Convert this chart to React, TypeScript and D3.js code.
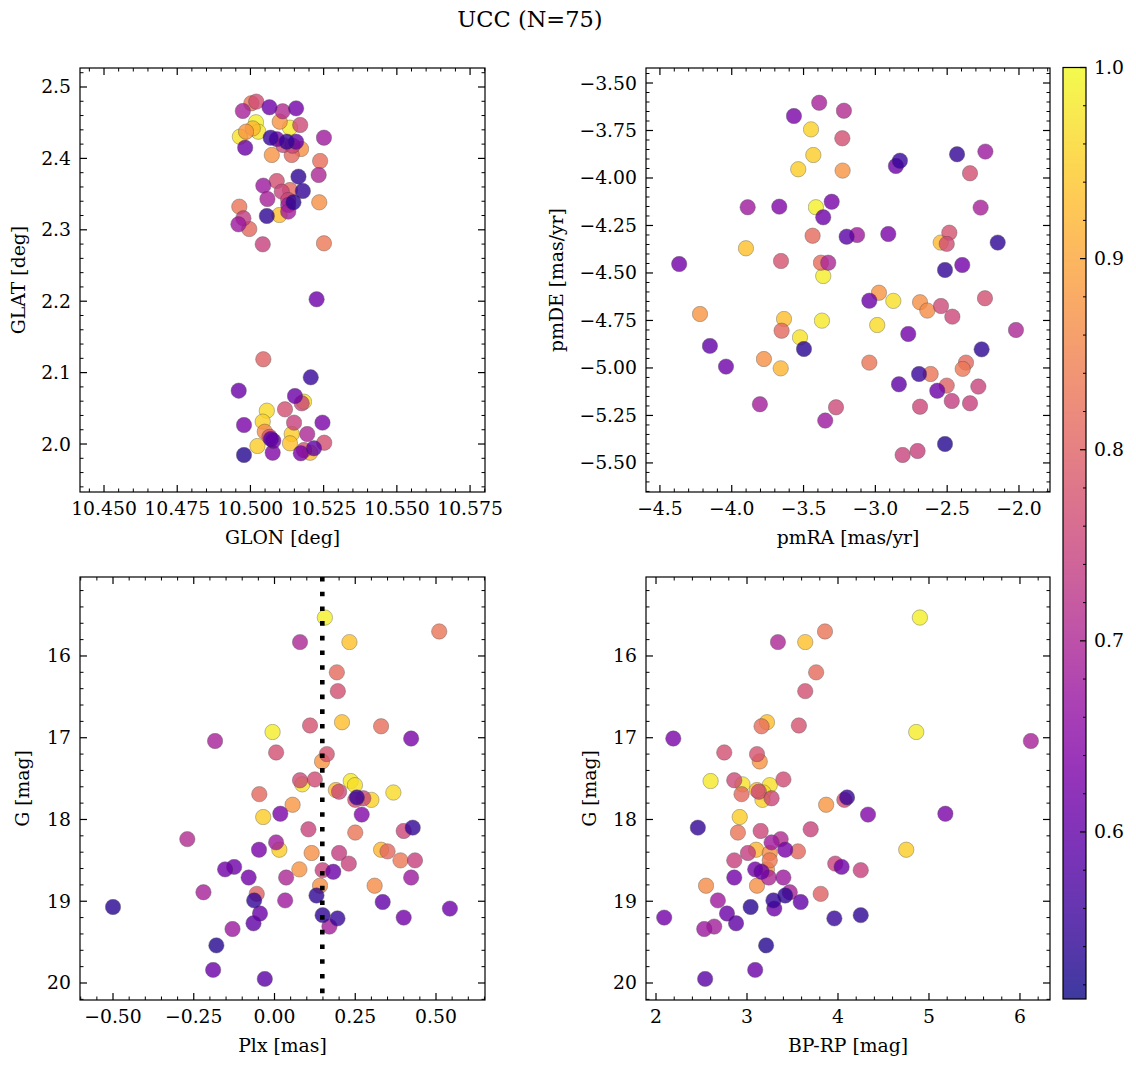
import React from "react";
import * as d3 from "d3";

// ---------------- data (one entry per star) ----------------
const prob = [
  0.99, 0.985, 0.98, 0.975, 0.97, 0.965, 0.955, 0.95, 0.95,
  0.935, 0.93, 0.925, 0.92,
  0.875, 0.88, 0.87, 0.875, 0.87, 0.865,
  0.83, 0.815, 0.82, 0.81, 0.83, 0.81, 0.835, 0.8,
  0.77, 0.775, 0.77, 0.775, 0.765, 0.76, 0.76, 0.755, 0.77, 0.75, 0.755, 0.74, 0.745, 0.75, 0.745,
  0.7, 0.69, 0.71, 0.68, 0.7, 0.675, 0.69, 0.68, 0.685, 0.675,
  0.63, 0.63, 0.64, 0.625, 0.615, 0.62, 0.61, 0.62, 0.6, 0.615, 0.61, 0.62, 0.595, 0.61, 0.59,
  0.55, 0.545, 0.54, 0.545, 0.535, 0.54, 0.55, 0.53,
];
const glon = [
  10.5019, 10.5135, 10.5027, 10.4964, 10.5183, 10.5056, 10.5042, 10.5141, 10.5024,
  10.5135, 10.5099, 10.5204, 10.5008,
  10.51, 10.4985, 10.5173, 10.5073, 10.5235, 10.5049,
  10.5003, 10.5141, 10.5238, 10.5135, 10.4962, 10.4996, 10.5251, 10.5044,
  10.5118, 10.5065, 10.5252, 10.5183, 10.502, 10.517, 10.5112, 10.5144, 10.509, 10.5107, 10.5129, 10.4976, 10.5042, 10.5175, 10.5149,
  10.5194, 10.4974, 10.511, 10.5251, 10.5233, 10.5044, 10.5058, 10.5129, 10.5129, 10.4959,
  10.4978, 10.5246, 10.5076, 10.5172, 10.5065, 10.5156, 10.4982, 10.509, 10.5156, 10.5226, 10.496, 10.5078, 10.5217, 10.5152, 10.507,
  10.5069, 10.5124, 10.5164, 10.5179, 10.5147, 10.5056, 10.5206, 10.4978,
];
const glat = [
  2.4506, 2.443, 2.4374, 2.4304, 2.0592, 2.0466, 2.0313, 2.014, 1.9972,
  2.001, 2.3207, 1.9878, 2.442,
  2.4514, 2.4374, 2.4132, 2.4048, 2.3385, 2.0172,
  2.4772, 2.4048, 2.3964, 2.3557, 2.3324, 2.3011, 2.2811, 2.1187,
  2.0486, 2.0102, 2.0018, 1.9916, 2.4795, 2.4468, 2.4188, 2.4178, 2.3683, 2.3534, 2.3417, 2.3161, 2.2797, 2.057, 2.0299,
  2.014, 2.4664, 2.466, 2.429, 2.3768, 2.3618, 2.3431, 2.3347, 2.3254, 2.3077,
  2.0266, 2.0299, 1.9878, 1.987, 2.4716, 2.4701, 2.415, 2.427, 2.4234, 2.2027, 2.0747, 2.0046, 1.994, 2.0672, 2.007,
  2.429, 2.4234, 2.3744, 2.3543, 2.3385, 2.3193, 2.0934, 1.9846,
];
const pmra = [
  -3.414, -3.363, -3.372, -3.525, -2.875, -2.987, -3.448, -3.432, -3.537,
  -3.901, -3.636, -2.545, -3.659,
  -3.228, -4.221, -3.776, -2.975, -2.689, -2.638,
  -2.615, -3.437, -3.379, -3.653, -3.042, -2.369, -2.392, -2.503,
  -3.23, -3.657, -2.341, -2.485, -2.503, -3.274, -2.543, -2.464, -2.237, -2.283, -2.689, -2.468, -2.341, -2.81, -2.706,
  -2.021, -3.391, -3.219, -3.889, -3.328, -2.234, -2.267, -3.127, -3.804, -3.349,
  -2.91, -3.567, -3.669, -3.304, -3.363, -4.366, -2.857, -2.395, -4.152, -4.04, -3.042, -2.771, -2.836, -2.569, -3.2,
  -2.829, -2.431, -2.148, -2.515, -3.497, -2.26, -2.696, -2.515,
];
const pmde = [
  -4.154, -4.516, -4.751, -4.839, -4.647, -4.774, -3.744, -3.879, -3.954,
  -4.37, -4.742, -4.34, -5.002,
  -3.961, -4.716, -4.953, -4.604, -4.654, -4.698,
  -5.032, -4.304, -4.446, -4.804, -4.972, -4.972, -5.005, -5.093,
  -3.791, -4.437, -3.975, -4.288, -4.347, -5.207, -4.674, -4.73, -4.633, -5.098, -5.204, -5.174, -5.186, -5.458, -5.437,
  -4.8, -3.604, -3.646, -4.154, -4.446, -3.861, -4.156, -4.3, -5.191, -5.277,
  -4.295, -3.674, -4.151, -4.125, -4.207, -4.453, -3.937, -4.458, -4.884, -4.993, -4.646, -4.821, -5.086, -5.12, -4.309,
  -3.909, -3.875, -4.34, -4.484, -4.9, -4.902, -5.032, -5.4,
];
const plx = [
  0.156, -0.006, 0.236, 0.086, 0.249, 0.368, 0.3, -0.035, 0.015,
  0.232, 0.209, 0.19, 0.33,
  0.147, 0.056, 0.115, 0.077, 0.141, 0.31,
  0.51, 0.193, 0.33, -0.047, 0.25, 0.35, 0.39, -0.055,
  0.196, 0.11, 0.005, 0.162, 0.125, 0.079, 0.2, 0.275, 0.25, 0.105, 0.4, 0.2, 0.435, 0.23, 0.149,
  0.079, -0.184, -0.27, 0.005, 0.036, 0.423, -0.22, 0.033, 0.17, -0.13,
  0.423, 0.018, 0.27, -0.048, -0.125, -0.153, 0.182, -0.08, 0.335, 0.543, -0.045, 0.4, -0.065, -0.19, -0.03,
  0.255, 0.428, 0.13, -0.063, -0.5, 0.149, 0.195, -0.18,
];
const gmag = [
  15.53, 16.93, 17.53, 17.57, 17.58, 17.67, 17.76, 17.97, 18.37,
  15.83, 16.81, 17.64, 18.37,
  17.29, 17.82, 18.41, 18.61, 18.81, 18.81,
  15.7, 16.2, 16.86, 17.69, 18.16, 18.39, 18.5, 18.91,
  16.43, 16.85, 17.18, 17.2, 17.51, 17.52, 17.66, 17.74, 17.76, 18.12, 18.14, 18.41, 18.5, 18.54, 18.62,
  15.83, 17.04, 18.24, 18.28, 18.71, 18.71, 18.89, 18.99, 19.31, 19.34,
  17.01, 17.93, 17.94, 18.37, 18.58, 18.61, 18.64, 18.71, 19.01, 19.09, 19.15, 19.2, 19.27, 19.84, 19.95,
  17.73, 18.1, 18.93, 18.99, 19.07, 19.17, 19.21, 19.54,
];
const bprp = [
  4.9, 4.86, 2.6, 2.95, 3.25, 3.18, 3.17, 2.92, 4.75,
  3.64, 3.22, 3.11, 3.1,
  3.14, 3.87, 3.25, 3.22, 3.11, 2.55,
  3.857, 3.76, 3.16, 2.94, 2.9, 3.56, 3.25, 3.81,
  3.64, 3.57, 2.75, 3.11, 3.4, 2.86, 3.13, 3.27, 4.07, 3.7, 3.15, 3.01, 2.86, 3.97, 4.25,
  3.34, 6.12, 3.37, 3.27, 3.24, 3.4, 3.47, 2.68, 2.64, 2.53,
  2.19, 5.18, 4.33, 3.42, 4.04, 3.09, 3.16, 2.86, 3.59, 3.3, 2.78, 2.09, 2.88, 3.09, 2.54,
  4.1, 2.46, 3.42, 3.29, 3.04, 4.25, 3.96, 3.21,
];

const plxLine = 0.148;

// tick labels
const p1XTicks = [10.45, 10.475, 10.5, 10.525, 10.55, 10.575];
const p1YTicks = [2.0, 2.1, 2.2, 2.3, 2.4, 2.5];
const p2XTicks = [-4.5, -4.0, -3.5, -3.0, -2.5, -2.0];
const p2YTicks = [-3.5, -3.75, -4.0, -4.25, -4.5, -4.75, -5.0, -5.25, -5.5];
const p3XTicks = [-0.5, -0.25, 0, 0.25, 0.5];
const gTicks = [16, 17, 18, 19, 20];
const p4XTicks = [2, 3, 4, 5, 6];
const cbTicks = [0.6, 0.7, 0.8, 0.9, 1.0];

const VMIN = 0.5126;
const VMAX = 1.0;

// ---------------- drawing ----------------
const FONT = "'DejaVu Serif', serif";
const FS = 18.8;
const R = 7.7;
const ALPHA = 0.8;

const color = (p: number) => d3.interpolatePlasma((p - VMIN) / (VMAX - VMIN));

function minorTicks(domain: number[], step: number, majors: number[]) {
  const lo = Math.min(domain[0], domain[1]);
  const hi = Math.max(domain[0], domain[1]);
  const out: number[] = [];
  const start = Math.ceil(lo / step - 1e-9);
  const end = Math.floor(hi / step + 1e-9);
  for (let k = start; k <= end; k++) {
    const v = k * step;
    if (!majors.some((m) => Math.abs(m - v) < step * 0.01)) out.push(v);
  }
  return out;
}

type PanelProps = {
  box: [number, number, number, number];
  xDomain: [number, number];
  yDomain: [number, number];
  xTicks: number[];
  yTicks: number[];
  xMinor: number;
  yMinor: number;
  xFmt: string;
  yFmt: string;
  xLabel: string;
  yLabel: string;
  yLabelX: number;
  xs: number[];
  ys: number[];
  vline?: number;
};

function Panel(p: PanelProps) {
  const [x0, y0, x1, y1] = p.box;
  const x = d3.scaleLinear().domain(p.xDomain).range([x0, x1]);
  const y = d3.scaleLinear().domain(p.yDomain).range([y1, y0]);
  const fx = d3.format(p.xFmt);
  const fy = d3.format(p.yFmt);
  const xMin = minorTicks(p.xDomain, p.xMinor, p.xTicks);
  const yMin = minorTicks(p.yDomain, p.yMinor, p.yTicks);
  const MJ = 7;
  const MN = 3.5;
  const clipId = `clip-${x0}-${y0}`;
  return (
    <g>
      <defs>
        <clipPath id={clipId}>
          <rect x={x0} y={y0} width={x1 - x0} height={y1 - y0} />
        </clipPath>
      </defs>
      <g clipPath={`url(#${clipId})`}>
        {p.xs.map((v, i) => (
          <circle
            key={i}
            cx={x(v)}
            cy={y(p.ys[i])}
            r={R}
            fill={color(prob[i])}
            stroke="#333"
            strokeWidth={0.4}
            opacity={ALPHA}
          />
        ))}
        {p.vline !== undefined && (
          <line
            x1={x(p.vline)}
            x2={x(p.vline)}
            y1={y0}
            y2={y1}
            stroke="#000"
            strokeWidth={4.6}
            strokeDasharray="4.6 10.1"
          />
        )}
      </g>
      <g stroke="#000">
        {p.xTicks.map((t) => (
          <g key={"xt" + t}>
            <line x1={x(t)} x2={x(t)} y1={y1} y2={y1 - MJ} strokeWidth={1.2} />
            <line x1={x(t)} x2={x(t)} y1={y0} y2={y0 + MJ} strokeWidth={1.2} />
          </g>
        ))}
        {xMin.map((t) => (
          <g key={"xm" + t}>
            <line x1={x(t)} x2={x(t)} y1={y1} y2={y1 - MN} strokeWidth={1} />
            <line x1={x(t)} x2={x(t)} y1={y0} y2={y0 + MN} strokeWidth={1} />
          </g>
        ))}
        {p.yTicks.map((t) => (
          <g key={"yt" + t}>
            <line x1={x0} x2={x0 + MJ} y1={y(t)} y2={y(t)} strokeWidth={1.2} />
            <line x1={x1} x2={x1 - MJ} y1={y(t)} y2={y(t)} strokeWidth={1.2} />
          </g>
        ))}
        {yMin.map((t) => (
          <g key={"ym" + t}>
            <line x1={x0} x2={x0 + MN} y1={y(t)} y2={y(t)} strokeWidth={1} />
            <line x1={x1} x2={x1 - MN} y1={y(t)} y2={y(t)} strokeWidth={1} />
          </g>
        ))}
      </g>
      <rect x={x0} y={y0} width={x1 - x0} height={y1 - y0} fill="none" stroke="#000" strokeWidth={1.2} />
      <g fontFamily={FONT} fontSize={FS} fill="#000">
        {p.xTicks.map((t) => (
          <text key={"xl" + t} x={x(t)} y={y1 + 23} textAnchor="middle">
            {fx(t)}
          </text>
        ))}
        {p.yTicks.map((t) => (
          <text key={"yl" + t} x={x0 - 9} y={y(t)} textAnchor="end" dominantBaseline="central">
            {fy(t)}
          </text>
        ))}
        <text x={(x0 + x1) / 2} y={y1 + 52} textAnchor="middle">
          {p.xLabel}
        </text>
        <text
          transform={`translate(${p.yLabelX},${(y0 + y1) / 2}) rotate(-90)`}
          textAnchor="middle"
          dominantBaseline="central"
        >
          {p.yLabel}
        </text>
      </g>
    </g>
  );
}

function Colorbar() {
  const cx0 = 1063, cx1 = 1086, cy0 = 67.5, cy1 = 999;
  const s = d3.scaleLinear().domain([VMIN, VMAX]).range([cy1, cy0]);
  const stops = d3.range(0, 1.0001, 0.05);
  const minors = minorTicks([VMIN, VMAX], 0.02, cbTicks);
  return (
    <g>
      <defs>
        <linearGradient id="cbgrad" x1="0" y1="1" x2="0" y2="0">
          {stops.map((t) => (
            <stop key={t} offset={t} stopColor={d3.interpolatePlasma(t)} />
          ))}
        </linearGradient>
      </defs>
      <rect x={cx0} y={cy0} width={cx1 - cx0} height={cy1 - cy0} fill="url(#cbgrad)" opacity={ALPHA} />
      <rect x={cx0} y={cy0} width={cx1 - cx0} height={cy1 - cy0} fill="none" stroke="#000" strokeWidth={1.2} />
      <g stroke="#000">
        {cbTicks.map((t) => (
          <line key={t} x1={cx1} x2={cx1 - 6} y1={s(t)} y2={s(t)} strokeWidth={1.2} />
        ))}
        {minors.map((t) => (
          <line key={"m" + t} x1={cx1} x2={cx1 - 3} y1={s(t)} y2={s(t)} strokeWidth={1} />
        ))}
      </g>
      <g fontFamily={FONT} fontSize={FS}>
        {cbTicks.map((t) => (
          <text key={t} x={cx1 + 8} y={s(t)} dominantBaseline="central">
            {d3.format(".1f")(t)}
          </text>
        ))}
      </g>
    </g>
  );
}

export default function App() {
  return (
    <svg
      width={1136}
      height={1067}
      style={{ position: "absolute", left: 0, top: 0, background: "#fff" }}
    >
      <rect x={0} y={0} width={1136} height={1067} fill="#fff" />
      <text x={530} y={27} textAnchor="middle" fontFamily={FONT} fontSize={22.5}>
        UCC (N=75)
      </text>
      <Panel
        box={[80, 68, 485, 492]}
        xDomain={[10.4418, 10.5801]}
        yDomain={[1.9328, 2.5266]}
        xTicks={p1XTicks}
        yTicks={p1YTicks}
        xMinor={0.005}
        yMinor={0.02}
        xFmt=".3f"
        yFmt=".1f"
        xLabel="GLON [deg]"
        yLabel="GLAT [deg]"
        yLabelX={18}
        xs={glon}
        ys={glat}
      />
      <Panel
        box={[646, 68, 1050, 492]}
        xDomain={[-4.597, -1.784]}
        yDomain={[-5.653, -3.421]}
        xTicks={p2XTicks}
        yTicks={p2YTicks}
        xMinor={0.1}
        yMinor={0.05}
        xFmt=".1f"
        yFmt=".2f"
        xLabel="pmRA [mas/yr]"
        yLabel="pmDE [mas/yr]"
        yLabelX={556}
        xs={pmra}
        ys={pmde}
      />
      <Panel
        box={[80, 577, 485, 1000]}
        xDomain={[-0.6022, 0.6517]}
        yDomain={[20.208, 15.034]}
        xTicks={p3XTicks}
        yTicks={gTicks}
        xMinor={0.05}
        yMinor={0.2}
        xFmt=".2f"
        yFmt="d"
        xLabel="Plx [mas]"
        yLabel="G [mag]"
        yLabelX={22}
        xs={plx}
        ys={gmag}
        vline={plxLine}
      />
      <Panel
        box={[646, 577, 1050, 1000]}
        xDomain={[1.89, 6.33]}
        yDomain={[20.208, 15.034]}
        xTicks={p4XTicks}
        yTicks={gTicks}
        xMinor={0.2}
        yMinor={0.2}
        xFmt="d"
        yFmt="d"
        xLabel="BP-RP [mag]"
        yLabel="G [mag]"
        yLabelX={589}
        xs={bprp}
        ys={gmag}
      />
      <Colorbar />
    </svg>
  );
}
